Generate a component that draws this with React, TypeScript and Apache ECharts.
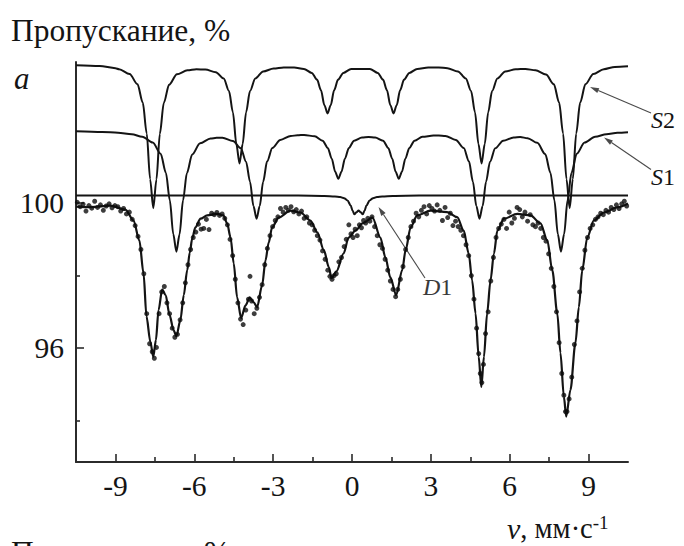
import React, { useEffect, useRef } from "react";
import * as echarts from "echarts";

// ---- axis extents and ticks ----
const xMin = -10.5;
const xMax = 10.5;
const yMin = 92.86;
const yMax = 103.89;
const xMajorTicks = [-9, -6, -3, 0, 3, 6, 9];
const xMinorTicks = [-7.5, -4.5, -1.5, 1.5, 4.5, 7.5];
const yMajorTicks = [96, 100];
const yMinorTicks = [94, 98];

// ---- texts ----
const yTitle = "Пропускание, %";
const panelLetter = "a";
const s2Label = "S2";
const s1Label = "S1";
const d1Label = "D1";

// ---- sub-spectrum S2 (shifted up) ----
const s2Curve: [number, number][] = [
  [-10.5, 103.8], [-9.6, 103.78], [-9.0, 103.72], [-8.86, 103.69], [-8.46, 103.56], [-8.16, 103.275],
  [-7.96, 102.77], [-7.81, 101.92], [-7.68, 100.66], [-7.56, 99.86], [-7.44, 100.65], [-7.31, 101.91],
  [-7.16, 102.76], [-6.96, 103.26], [-6.66, 103.55], [-6.26, 103.66], [-5.92, 103.69], [-5.58, 103.68],
  [-5.18, 103.61], [-4.88, 103.435], [-4.68, 103.09], [-4.53, 102.5], [-4.4, 101.63], [-4.28, 101.09],
  [-4.16, 101.63], [-4.03, 102.5], [-3.88, 103.09], [-3.68, 103.435], [-3.38, 103.63], [-2.98, 103.71],
  [-2.6, 103.74], [-2.2, 103.74], [-1.83, 103.7], [-1.53, 103.59], [-1.33, 103.405], [-1.18, 103.11],
  [-1.05, 102.7], [-0.93, 102.47], [-0.81, 102.7], [-0.68, 103.11], [-0.53, 103.405], [-0.33, 103.59],
  [-0.03, 103.7], [0.33, 103.7], [0.68, 103.7], [0.98, 103.59], [1.18, 103.405], [1.33, 103.11],
  [1.46, 102.7], [1.58, 102.47], [1.7, 102.7], [1.83, 103.11], [1.98, 103.405], [2.18, 103.59],
  [2.48, 103.7], [2.9, 103.74], [3.3, 103.74], [3.63, 103.72], [4.03, 103.63], [4.33, 103.435],
  [4.53, 103.09], [4.68, 102.5], [4.81, 101.63], [4.93, 101.09], [5.05, 101.63], [5.18, 102.5],
  [5.33, 103.09], [5.53, 103.435], [5.83, 103.63], [6.23, 103.69], [6.6, 103.7], [6.98, 103.66],
  [7.38, 103.545], [7.68, 103.275], [7.88, 102.77], [8.03, 101.92], [8.16, 100.66], [8.28, 99.86],
  [8.4, 100.66], [8.53, 101.92], [8.68, 102.77], [8.88, 103.275], [9.18, 103.56], [9.58, 103.69],
  [10.0, 103.755], [10.5, 103.77],
];

// ---- sub-spectrum S1 (shifted up) ----
const s1Curve: [number, number][] = [
  [-10.5, 101.98], [-9.5, 101.96], [-8.9, 101.94], [-8.38, 101.9], [-7.98, 101.83], [-7.58, 101.67],
  [-7.28, 101.36], [-7.08, 100.835], [-6.93, 100.075], [-6.8, 99.145], [-6.68, 98.66], [-6.56, 99.14],
  [-6.43, 100.07], [-6.28, 100.83], [-6.08, 101.34], [-5.78, 101.65], [-5.38, 101.78], [-5.15, 101.8],
  [-4.93, 101.8], [-4.53, 101.71], [-4.23, 101.51], [-4.03, 101.14], [-3.88, 100.59], [-3.75, 99.92],
  [-3.63, 99.57], [-3.51, 99.92], [-3.38, 100.59], [-3.23, 101.15], [-3.03, 101.52], [-2.73, 101.74],
  [-2.33, 101.85], [-2.07, 101.87], [-1.82, 101.88], [-1.42, 101.84], [-1.12, 101.72], [-0.92, 101.52],
  [-0.77, 101.225], [-0.64, 100.865], [-0.52, 100.67], [-0.4, 100.865], [-0.27, 101.225], [-0.12, 101.52],
  [0.08, 101.72], [0.38, 101.81], [0.63, 101.825], [0.88, 101.81], [1.18, 101.72], [1.38, 101.52],
  [1.53, 101.225], [1.66, 100.865], [1.78, 100.67], [1.9, 100.865], [2.03, 101.225], [2.18, 101.52],
  [2.38, 101.72], [2.68, 101.83], [3.1, 101.86], [3.3, 101.86], [3.55, 101.85], [3.95, 101.74],
  [4.25, 101.52], [4.45, 101.15], [4.6, 100.59], [4.73, 99.92], [4.85, 99.57], [4.97, 99.92],
  [5.1, 100.59], [5.25, 101.14], [5.45, 101.51], [5.75, 101.72], [6.15, 101.81], [6.4, 101.82],
  [6.68, 101.79], [7.05, 101.66], [7.35, 101.35], [7.55, 100.835], [7.7, 100.075], [7.83, 99.145],
  [7.95, 98.66], [8.07, 99.145], [8.2, 100.075], [8.35, 100.835], [8.55, 101.36], [8.85, 101.67],
  [9.25, 101.83], [9.68, 101.9], [10.1, 101.94], [10.5, 101.955],
];

// ---- doublet D1 ----
const d1Curve: [number, number][] = [
  [-10.5, 100.21], [-2.05, 100.206], [-1.05, 100.198], [-0.65, 100.184], [-0.45, 100.166], [-0.3, 100.135],
  [-0.17, 100.072], [-0.05, 99.933], [0.02, 99.792], [0.09, 99.691], [0.17, 99.744], [0.25, 99.798],
  [0.33, 99.744], [0.41, 99.691], [0.48, 99.792], [0.55, 99.933], [0.67, 100.072], [0.8, 100.135],
  [0.95, 100.166], [1.15, 100.184], [1.55, 100.198], [2.55, 100.206], [10.5, 100.21],
];

// ---- fitted envelope ----
const fitCurve: [number, number][] = [
  [-10.5, 99.9], [-9.95, 99.885], [-9.19, 99.93], [-8.62, 99.82], [-8.31, 99.52], [-8.09, 98.97],
  [-7.93, 98.06], [-7.82, 96.88], [-7.67, 96.17], [-7.56, 95.76], [-7.46, 96.22], [-7.36, 97.05],
  [-7.22, 97.62], [-7.09, 97.46], [-6.94, 96.91], [-6.79, 96.5], [-6.68, 96.33], [-6.53, 96.77],
  [-6.4, 97.46], [-6.27, 98.15], [-6.17, 98.64], [-6.08, 99.02], [-5.96, 99.33], [-5.76, 99.57],
  [-5.51, 99.66], [-5.13, 99.7], [-4.89, 99.66], [-4.75, 99.44], [-4.62, 99.05], [-4.5, 98.34],
  [-4.37, 97.4], [-4.22, 96.83], [-4.05, 97.18], [-3.89, 97.4], [-3.75, 97.27], [-3.61, 97.13],
  [-3.42, 97.73], [-3.29, 98.42], [-3.17, 98.91], [-3.04, 99.33], [-2.79, 99.6], [-2.34, 99.79],
  [-1.96, 99.74], [-1.58, 99.52], [-1.32, 99.19], [-1.07, 98.7], [-0.88, 98.23], [-0.78, 97.93],
  [-0.59, 98.12], [-0.32, 98.61], [-0.13, 99.05], [0.13, 99.24], [0.4, 99.44], [0.78, 99.6],
  [1.08, 99.05], [1.27, 98.5], [1.46, 97.95], [1.68, 97.46], [1.91, 98.15], [2.04, 98.7],
  [2.23, 99.33], [2.48, 99.66], [2.99, 99.79], [3.62, 99.75], [4.0, 99.61], [4.25, 99.24],
  [4.44, 98.61], [4.57, 97.87], [4.7, 96.96], [4.82, 95.76], [4.92, 94.93], [5.02, 95.76],
  [5.14, 96.96], [5.27, 97.87], [5.4, 98.61], [5.53, 99.24], [5.78, 99.57], [6.29, 99.7],
  [6.79, 99.66], [7.17, 99.44], [7.43, 98.97], [7.62, 98.15], [7.81, 96.96], [7.93, 95.87],
  [8.06, 94.66], [8.15, 94.11], [8.31, 94.85], [8.5, 96.14], [8.63, 97.13], [8.76, 98.15],
  [8.95, 99.05], [9.2, 99.52], [9.58, 99.74], [10.09, 99.88], [10.5, 99.99],
];

// ---- measured points ----
const measured: [number, number][] = [
  [-10.45, 100.02], [-10.34, 99.9], [-10.23, 99.97], [-10.12, 99.78], [-10.01, 99.93], [-9.9, 99.86],
  [-9.79, 100.05], [-9.68, 99.88], [-9.57, 99.95], [-9.46, 99.8], [-9.35, 99.92], [-9.24, 99.98],
  [-9.13, 99.87], [-9.02, 99.93], [-8.91, 99.9], [-8.8, 99.78], [-8.69, 99.85], [-8.58, 99.7],
  [-8.47, 99.75], [-8.36, 99.55], [-8.25, 99.38], [-8.14, 99.08], [-8.03, 98.72], [-7.92, 98.05],
  [-7.81, 96.95], [-7.7, 96.12], [-7.6, 95.9], [-7.52, 95.72], [-7.44, 96.02], [-7.34, 96.95],
  [-7.24, 97.55], [-7.14, 97.7], [-7.04, 97.25], [-6.94, 96.95], [-6.84, 96.55], [-6.74, 96.3],
  [-6.64, 96.38], [-6.54, 96.78], [-6.44, 97.25], [-6.34, 97.8], [-6.24, 98.3], [-6.14, 98.72],
  [-6.04, 99.05], [-5.94, 99.2], [-5.84, 99.42], [-5.74, 99.28], [-5.64, 99.3], [-5.54, 99.55],
  [-5.44, 99.27], [-5.34, 99.72], [-5.24, 99.68], [-5.14, 99.74], [-5.04, 99.66], [-4.94, 99.7],
  [-4.84, 99.58], [-4.74, 99.4], [-4.64, 99.0], [-4.54, 98.55], [-4.44, 97.9], [-4.34, 97.25],
  [-4.24, 96.8], [-4.14, 96.65], [-4.04, 97.05], [-3.94, 97.35], [-3.88, 97.98], [-3.82, 97.3],
  [-3.72, 96.95], [-3.62, 97.1], [-3.52, 97.4], [-3.42, 97.75], [-3.32, 98.3], [-3.22, 98.75],
  [-3.12, 99.1], [-3.02, 99.35], [-2.92, 99.52], [-2.82, 99.62], [-2.72, 99.85], [-2.62, 99.75],
  [-2.52, 99.88], [-2.42, 99.8], [-2.32, 99.9], [-2.22, 99.76], [-2.12, 99.82], [-2.02, 99.7],
  [-1.92, 99.78], [-1.82, 99.58], [-1.72, 99.62], [-1.62, 99.45], [-1.52, 99.4], [-1.42, 99.25],
  [-1.32, 99.1], [-1.22, 98.98], [-1.12, 98.68], [-1.02, 98.45], [-0.92, 98.15], [-0.84, 97.98],
  [-0.76, 97.9], [-0.68, 98.0], [-0.6, 98.05], [-0.5, 98.38], [-0.4, 98.5], [-0.3, 98.8],
  [-0.22, 99.0], [-0.12, 99.4], [-0.04, 99.15], [0.04, 99.05], [0.12, 99.28], [0.2, 99.1],
  [0.28, 99.4], [0.36, 99.32], [0.44, 99.52], [0.52, 99.45], [0.6, 99.58], [0.68, 99.5],
  [0.76, 99.62], [0.86, 99.35], [0.96, 99.1], [1.06, 98.85], [1.16, 98.75], [1.26, 98.45],
  [1.36, 98.15], [1.46, 97.85], [1.56, 97.62], [1.66, 97.42], [1.74, 97.62], [1.84, 97.9],
  [1.94, 98.25], [2.04, 98.72], [2.14, 99.05], [2.24, 99.35], [2.34, 99.5], [2.44, 99.72],
  [2.54, 99.62], [2.64, 99.8], [2.74, 99.9], [2.84, 99.7], [2.94, 99.93], [3.04, 99.85],
  [3.14, 99.78], [3.24, 99.95], [3.34, 99.8], [3.44, 99.52], [3.54, 99.88], [3.64, 99.6],
  [3.74, 99.72], [3.84, 99.38], [3.94, 99.5], [4.04, 99.35], [4.14, 99.25], [4.24, 99.1],
  [4.34, 98.85], [4.44, 98.55], [4.54, 98.0], [4.64, 97.35], [4.74, 96.55], [4.82, 95.85],
  [4.88, 95.3], [4.94, 95.05], [5.0, 95.55], [5.08, 96.4], [5.18, 97.0], [5.28, 97.85],
  [5.38, 98.5], [5.48, 99.05], [5.58, 99.3], [5.68, 99.42], [5.78, 99.55], [5.88, 99.3],
  [5.98, 99.75], [6.08, 99.45], [6.18, 99.58], [6.28, 99.88], [6.38, 99.82], [6.48, 99.62],
  [6.58, 99.75], [6.68, 99.5], [6.78, 99.68], [6.88, 99.4], [6.98, 99.35], [7.08, 99.45],
  [7.18, 99.3], [7.28, 99.05], [7.38, 98.95], [7.48, 98.6], [7.58, 98.2], [7.68, 97.7],
  [7.78, 97.0], [7.88, 96.15], [7.98, 95.3], [8.06, 94.7], [8.12, 94.25], [8.18, 94.25],
  [8.26, 94.6], [8.36, 95.2], [8.46, 96.1], [8.56, 96.75], [8.66, 97.55], [8.76, 98.2],
  [8.86, 98.7], [8.96, 99.05], [9.06, 99.3], [9.16, 99.4], [9.26, 99.55], [9.36, 99.62],
  [9.46, 99.72], [9.56, 99.68], [9.66, 99.8], [9.76, 99.75], [9.86, 99.88], [9.96, 99.82],
  [10.06, 99.95], [10.16, 99.85], [10.26, 99.98], [10.36, 100.05], [10.45, 99.92],
];

const SERIF = "Liberation Serif";
const INK = "#141414";
const AXIS = "#2b2b2b";
const GREY = "#4a4a4a";

function arrow(x1: number, y1: number, x2: number, y2: number) {
  const dx = x2 - x1;
  const dy = y2 - y1;
  const len = Math.sqrt(dx * dx + dy * dy);
  const ux = dx / len;
  const uy = dy / len;
  const hl = 9;
  const hw = 2.6;
  const bx = x2 - ux * hl;
  const by = y2 - uy * hl;
  return [
    {
      type: "line",
      silent: true,
      shape: { x1, y1, x2: bx, y2: by },
      style: { stroke: GREY, lineWidth: 1.1 },
    },
    {
      type: "polygon",
      silent: true,
      shape: {
        points: [
          [x2, y2],
          [bx - uy * hw, by + ux * hw],
          [bx + uy * hw, by - ux * hw],
        ],
      },
      style: { fill: GREY },
    },
  ];
}

function lineSeries(data: [number, number][], width: number) {
  return {
    type: "line",
    data,
    showSymbol: false,
    smooth: 0.3,
    smoothMonotone: "x",
    silent: true,
    lineStyle: { color: INK, width },
    z: 2,
  };
}

function plainText(text: string, x: number, y: number, size: number, italic = false) {
  return {
    type: "text",
    x,
    y,
    silent: true,
    style: {
      text,
      fontFamily: SERIF,
      fontSize: size,
      fontStyle: italic ? "italic" : "normal",
      fill: INK,
      align: "left",
      verticalAlign: "middle",
      textAlign: "left",
      textVerticalAlign: "middle",
    },
  };
}

function labelText(label: string, x: number, y: number, size: number, color: string) {
  return {
    type: "text",
    x,
    y,
    silent: true,
    style: {
      text: `{i|${label[0]}}{n|${label.slice(1)}}`,
      align: "left",
      verticalAlign: "middle",
      textAlign: "left",
      textVerticalAlign: "middle",
      rich: {
        i: { fontFamily: SERIF, fontSize: size, fontStyle: "italic", fill: color, color },
        n: { fontFamily: SERIF, fontSize: size, fill: color, color },
      },
    },
  };
}

export default function App() {
  const ref = useRef<HTMLDivElement>(null);

  useEffect(() => {
    document.body.style.margin = "0";
    if (!ref.current) return;
    const chart = echarts.init(ref.current, null, { renderer: "svg" });

    const option: any = {
      animation: false,
      backgroundColor: "#ffffff",
      textStyle: { fontFamily: SERIF },
      grid: { left: 76, right: 56, top: 62, bottom: 84, containLabel: false, outerBoundsMode: "none" },
      xAxis: [
        {
          type: "value",
          min: xMin,
          max: xMax,
          position: "bottom",
          axisLine: { show: true, onZero: false, lineStyle: { color: AXIS, width: 2 } },
          axisTick: { show: true, inside: true, length: 8, customValues: xMajorTicks, lineStyle: { color: AXIS, width: 1.6 } },
          axisLabel: {
            show: true,
            customValues: xMajorTicks,
            margin: 9,
            fontFamily: SERIF,
            fontSize: 29.5,
            color: INK,
            formatter: (v: number) => String(v),
          },
          splitLine: { show: false },
        },
        {
          type: "value",
          min: xMin,
          max: xMax,
          position: "bottom",
          axisLine: { show: false, onZero: false },
          axisTick: { show: true, inside: true, length: 5, customValues: xMinorTicks, lineStyle: { color: AXIS, width: 1.6 } },
          axisLabel: { show: false },
          splitLine: { show: false },
        },
      ],
      yAxis: [
        {
          type: "value",
          min: yMin,
          max: yMax,
          position: "left",
          axisLine: { show: true, onZero: false, lineStyle: { color: AXIS, width: 2 } },
          axisTick: { show: true, inside: true, length: 8, customValues: yMajorTicks, lineStyle: { color: AXIS, width: 1.6 } },
          axisLabel: {
            show: true,
            customValues: yMajorTicks,
            margin: 12,
            fontFamily: SERIF,
            fontSize: 29.5,
            color: INK,
            formatter: (v: number) => String(v),
          },
          splitLine: { show: false },
        },
        {
          type: "value",
          min: yMin,
          max: yMax,
          position: "left",
          axisLine: { show: false, onZero: false },
          axisTick: { show: true, inside: true, length: 4, customValues: yMinorTicks, lineStyle: { color: AXIS, width: 1.6 } },
          axisLabel: { show: false },
          splitLine: { show: false },
        },
      ],
      graphic: [
        plainText(yTitle, 11, 30, 31.5),
        plainText(yTitle, 11, 552, 31.5),
        plainText(panelLetter, 14, 78, 31, true),
        labelText(s2Label, 651, 120, 24, INK),
        labelText(s1Label, 651, 177, 24, INK),
        labelText(d1Label, 423, 287, 24, "#3a3a3a"),
        {
          type: "text",
          x: 507,
          y: 528,
          silent: true,
          style: {
            text: "{v|v}{t|, мм·с}{s|-1}",
            align: "left",
            verticalAlign: "middle",
            textAlign: "left",
            textVerticalAlign: "middle",
            rich: {
              v: { fontFamily: SERIF, fontSize: 30, fontStyle: "italic", fill: INK, color: INK },
              t: { fontFamily: SERIF, fontSize: 28.5, fill: INK, color: INK },
              s: { fontFamily: SERIF, fontSize: 19, fill: INK, color: INK, verticalAlign: "top" },
            },
          },
        },
        ...arrow(651, 113, 590, 87),
        ...arrow(651, 169.5, 604, 137.5),
        ...arrow(425, 278, 378.5, 207),
      ],
      series: [
        lineSeries(s2Curve, 2),
        lineSeries(s1Curve, 2),
        lineSeries(d1Curve, 2),
        lineSeries(fitCurve, 2.2),
        {
          type: "scatter",
          data: measured,
          symbol: "circle",
          symbolSize: 5,
          silent: true,
          itemStyle: { color: "#0d0d0d" },
          z: 3,
        },
      ],
    };

    chart.setOption(option);
    return () => {
      chart.dispose();
    };
  }, []);

  return <div ref={ref} style={{ width: 684, height: 546, background: "#fff" }} />;
}
